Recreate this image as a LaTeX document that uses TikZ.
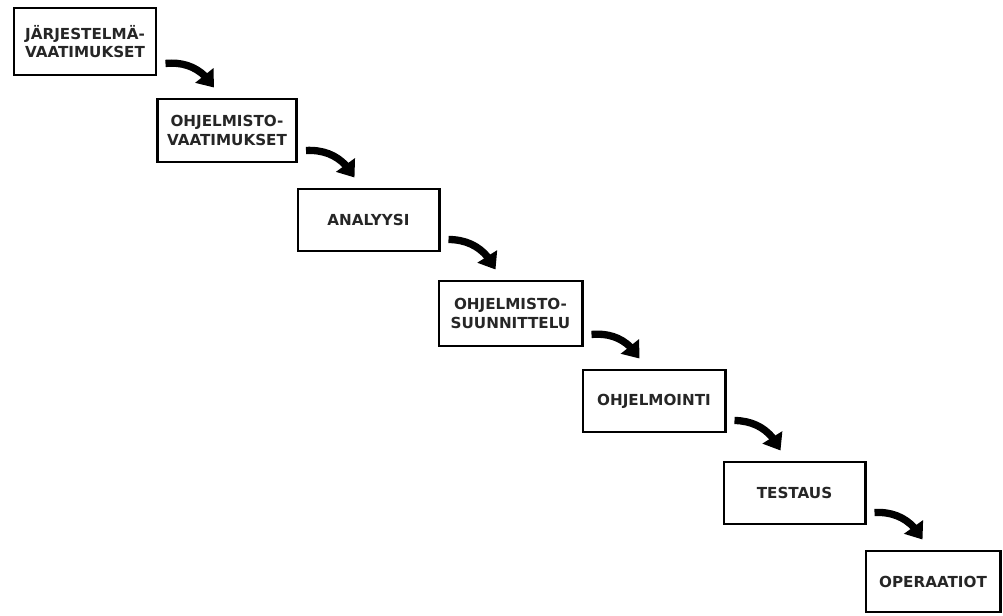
\documentclass[tikz,border=0pt]{standalone}
\usepackage{fontspec}
\setmainfont{DejaVu Sans}
\usetikzlibrary{arrows.meta,bending}
\tikzset{
  phase/.style={draw=black, line width=2.1pt, rectangle, align=center, inner sep=0pt,
    font=\bfseries\fontsize{10.8}{13}\selectfont, text=black!85},
  flow/.style={line width=5.2pt, -{Triangle[width=16pt,length=11pt]}},
}
\begin{document}
\begin{tikzpicture}[x=0.025cm,y=0.025cm]
\useasboundingbox (0,0) rectangle (1003,616);
\node[phase, minimum width=3.55cm, minimum height=1.675cm] (b1) at (85,574.5) {JÄRJESTELMÄ-\\VAATIMUKSET};
\node[phase, minimum width=3.475cm, minimum height=1.575cm] (b2) at (227,485.5) {OHJELMISTO-\\VAATIMUKSET};
\node[phase, minimum width=3.525cm, minimum height=1.55cm] (b3) at (368.5,396) {ANALYYSI};
\node[phase, minimum width=3.575cm, minimum height=1.625cm] (b4) at (510.5,302.5) {OHJELMISTO-\\SUUNNITTELU};
\node[phase, minimum width=3.55cm, minimum height=1.55cm] (b5) at (654,215) {OHJELMOINTI};
\node[phase, minimum width=3.525cm, minimum height=1.55cm] (b6) at (794.5,123) {TESTAUS};
\node[phase, minimum width=3.35cm, minimum height=1.525cm] (b7) at (933,34.5) {OPERAATIOT};
\foreach \a/\b in {b1/b2,b2/b3,b3/b4,b4/b5,b5/b6,b6/b7}{
  \draw[flow] ([shift={(8,13)}]\a.south east) to[bend left=32] ([shift={(58,10)}]\b.north west);
}
\end{tikzpicture}
\end{document}
